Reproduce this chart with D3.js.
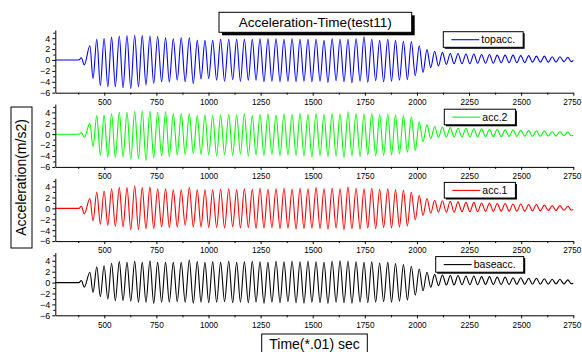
<!DOCTYPE html>
<html lang="en">
<head>
    <meta charset="UTF-8">
    <title>Acceleration-Time(test11)</title>
    <script src="https://d3js.org/d3.v7.min.js"></script>
    <style>
        body { margin: 0; background: #fff; }
        svg { font-family: "Liberation Sans", Arial, sans-serif; }
    </style>
</head>
<body>

<div id="chart"></div>

<script>
    // Series names (legend labels), top to bottom
    const categories = ["topacc.", "acc.2", "acc.1", "baseacc."];
    const lineColors = ["#0000ff", "#00ff00", "#ff0000", "#000000"];

    // Tick labels
    const xTicks = [500, 750, 1000, 1250, 1500, 1750, 2000, 2250, 2500, 2750];
    const yTicks = [-6, -4, -2, 0, 2, 4];

    // Signal is flat at 0 until the shaking starts
    const startTime = 265;
    const onsetTime = 378;
    const endTime = 2750;

    // Times (*.01 s) of each positive peak and each trough
    const peakTimes = [390, 431, 464, 499, 535, 572, 609, 646, 682, 719, 756, 794, 831, 869, 908, 946,
        983, 1020, 1058, 1097, 1135, 1172, 1210, 1247, 1285, 1324, 1362, 1401, 1439, 1477, 1516, 1554,
        1593, 1631, 1669, 1708, 1746, 1783, 1821, 1860, 1897, 1935, 1973, 2011, 2048, 2085, 2122, 2160,
        2197, 2235, 2273, 2310, 2348, 2385, 2423, 2461, 2498, 2536, 2573, 2611, 2649, 2686, 2724];
    const troughTimes = [404, 446, 481, 517, 553, 590, 627, 664, 700, 737, 775, 812, 850, 888, 927, 964,
        1001, 1039, 1077, 1116, 1153, 1191, 1228, 1266, 1304, 1343, 1381, 1420, 1458, 1496, 1535, 1573,
        1612, 1650, 1688, 1727, 1764, 1802, 1840, 1878, 1916, 1954, 1992, 2029, 2066, 2103, 2141, 2178,
        2216, 2254, 2291, 2329, 2366, 2404, 2442, 2479, 2517, 2554, 2592, 2630, 2667, 2705, 2740];

    // Peak / trough accelerations (m/s2) for each record
    const topMax = [0.4, 2.6, 3.8, 4.0, 4.2, 4.4, 4.5, 4.55, 4.55, 4.4, 4.3, 4.05, 3.9, 4.05, 4.05, 3.6,
        3.6, 3.6, 3.8, 3.8, 3.8, 3.8, 3.8, 3.9, 3.9, 3.9, 3.8, 3.9, 3.8, 3.8, 3.8, 3.6,
        3.9, 3.8, 3.8, 3.9, 4.25, 3.8, 3.6, 3.8, 3.6, 3.45, 3.4, 2.6, 1.9, 1.6, 1.4, 1.2,
        1.2, 1.1, 1.1, 1.0, 1.0, 0.9, 0.9, 0.9, 0.8, 0.8, 0.7, 0.7, 0.6, 0.6, 0.5];
    const topMin = [-0.9, -3.4, -4.7, -4.9, -4.9, -5.1, -5.2, -4.9, -4.6, -4.3, -4.0, -4.05, -3.7, -4.0, -4.3, -3.5,
        -3.4, -3.7, -3.9, -3.6, -3.9, -3.7, -3.7, -4.0, -3.9, -4.0, -3.9, -4.0, -3.9, -4.0, -3.9, -4.1,
        -3.8, -4.0, -4.2, -3.9, -4.1, -3.8, -4.0, -3.9, -3.7, -3.6, -2.9, -2.3, -1.4, -1.1, -0.8, -0.7,
        -0.7, -0.7, -0.6, -0.6, -0.6, -0.5, -0.5, -0.5, -0.5, -0.4, -0.4, -0.4, -0.4, -0.3, -0.3];

    const acc2Max = [0.3, 2.0, 3.4, 3.5, 3.8, 4.0, 4.0, 4.2, 4.3, 4.2, 4.0, 4.1, 3.8, 3.8, 3.8, 3.4,
        3.5, 3.4, 3.5, 3.6, 3.5, 3.7, 3.4, 3.6, 3.7, 3.5, 3.7, 3.6, 3.8, 3.6, 3.8, 3.6,
        3.8, 3.7, 4.1, 3.8, 3.7, 3.8, 3.6, 3.7, 3.5, 3.4, 3.2, 2.3, 1.7, 1.4, 1.3, 1.2,
        1.1, 1.1, 1.0, 1.0, 0.9, 0.9, 0.8, 0.8, 0.7, 0.7, 0.6, 0.6, 0.5, 0.5, 0.4];
    const acc2Min = [-0.6, -2.3, -3.85, -4.2, -4.3, -4.2, -4.6, -4.5, -4.8, -4.4, -4.0, -4.1, -3.8, -3.7, -3.55, -3.7,
        -3.8, -4.0, -3.8, -3.9, -3.6, -4.0, -3.8, -3.9, -3.7, -4.0, -3.8, -3.9, -4.0, -4.2, -3.9, -4.1,
        -4.0, -4.3, -3.9, -4.1, -3.8, -4.0, -3.9, -3.8, -3.6, -3.3, -3.0, -1.4, -0.8, -0.6, -0.5, -0.5,
        -0.5, -0.5, -0.5, -0.45, -0.45, -0.45, -0.4, -0.4, -0.4, -0.4, -0.4, -0.35, -0.35, -0.3, -0.3];

    const acc1Max = [0.4, 1.8, 3.0, 3.2, 3.6, 3.8, 3.8, 4.15, 3.8, 3.9, 3.6, 3.6, 3.4, 3.4, 3.8, 3.4,
        3.4, 3.4, 3.5, 3.6, 3.4, 3.6, 3.5, 3.7, 3.5, 3.6, 3.7, 3.5, 3.7, 3.6, 3.8, 3.6,
        3.7, 3.6, 3.9, 3.7, 3.6, 3.7, 3.5, 3.6, 3.4, 3.3, 3.0, 2.4, 1.8, 1.5, 1.4, 1.3,
        1.2, 1.1, 1.1, 1.0, 1.0, 0.9, 0.9, 0.8, 0.8, 0.7, 0.7, 0.6, 0.5, 0.5, 0.4];
    const acc1Min = [-1.0, -2.3, -2.9, -3.1, -3.3, -3.4, -3.9, -3.9, -3.7, -3.7, -3.4, -3.5, -3.4, -3.1, -3.4, -3.4,
        -3.5, -3.5, -3.6, -3.4, -3.6, -3.5, -3.7, -3.6, -3.5, -3.7, -3.6, -3.8, -3.7, -3.6, -3.7, -3.8,
        -3.6, -3.9, -3.7, -3.8, -3.6, -3.7, -3.5, -3.6, -3.4, -3.2, -2.1, -1.3, -0.9, -0.7, -0.7, -0.7,
        -0.6, -0.6, -0.6, -0.55, -0.55, -0.5, -0.5, -0.5, -0.5, -0.45, -0.45, -0.4, -0.4, -0.35, -0.3];

    const baseMax = [0.37, 1.9, 2.9, 3.1, 3.55, 3.85, 3.7, 3.9, 3.7, 4.0, 3.7, 3.7, 3.7, 3.7, 4.15, 3.85,
        3.7, 3.8, 3.7, 3.9, 3.7, 3.8, 3.9, 3.8, 3.7, 3.9, 3.8, 3.9, 3.8, 3.9, 3.8, 3.7,
        3.9, 4.0, 3.9, 3.8, 3.7, 3.8, 3.6, 3.7, 3.5, 3.3, 3.0, 2.5, 1.9, 1.5, 1.4, 1.3,
        1.3, 1.2, 1.2, 1.1, 1.1, 1.0, 1.0, 0.9, 0.9, 0.8, 0.8, 0.7, 0.6, 0.6, 0.5];
    const baseMin = [-0.85, -1.8, -2.6, -3.0, -3.3, -3.3, -3.4, -3.6, -3.6, -3.8, -3.6, -3.6, -3.5, -3.6, -3.8, -3.6,
        -3.7, -3.6, -3.5, -3.7, -3.6, -3.7, -3.6, -3.8, -3.6, -3.7, -3.5, -3.7, -3.8, -3.6, -3.7, -3.8,
        -3.6, -3.7, -3.8, -3.6, -3.7, -3.6, -3.5, -3.6, -3.4, -3.2, -2.3, -1.5, -0.85, -0.55, -0.45, -0.45,
        -0.4, -0.4, -0.4, -0.35, -0.35, -0.35, -0.35, -0.3, -0.3, -0.3, -0.3, -0.3, -0.25, -0.25, -0.2];

    const endValues = [-0.1, -0.2, -0.2, -0.15];

    const seriesMax = [topMax, acc2Max, acc1Max, baseMax];
    const seriesMin = [topMin, acc2Min, acc1Min, baseMin];

    // Layout
    const W = 582, H = 352;
    const plotLeft = 55.3, plotRight = 573.3;
    const panelBottoms = [92.7, 166.9, 241.1, 315.3];
    const panelHeight = 62.7;
    const legendX = [443.3, 444.3, 444.3, 435.7];
    const legendDy = [1.7, 5, 4, 4];

    const svg = d3.select("#chart")
        .append("svg")
        .attr("width", W)
        .attr("height", H);

    const x = d3.scaleLinear()
        .domain([startTime, endTime])
        .range([plotLeft, plotRight]);

    const xMinor = d3.range(375, 2750, 250);
    const yMinor = [-5, -3, -1, 1, 3, 5];

    categories.forEach(function(name, k) {
        const bottom = panelBottoms[k];
        const top = bottom - panelHeight;

        const y = d3.scaleLinear()
            .domain([-6, 5.5])
            .range([bottom, top]);

        // build the record: flat start, then alternating peaks and troughs
        const pts = [[startTime, 0], [onsetTime, 0]];
        peakTimes.forEach(function(t, i) {
            pts.push([t, seriesMax[k][i]]);
            pts.push([troughTimes[i], seriesMin[k][i]]);
        });
        pts.push([endTime, endValues[k]]);

        const line = d3.line()
            .x(d => x(d[0]))
            .y(d => y(d[1]))
            .curve(d3.curveMonotoneX);

        svg.append("path")
            .datum(pts)
            .attr("d", line)
            .attr("fill", "none")
            .attr("stroke", lineColors[k])
            .attr("stroke-width", 1.1);

        // X axis
        const gx = svg.append("g")
            .attr("transform", "translate(0," + bottom + ")")
            .call(d3.axisBottom(x).tickValues(xTicks).tickFormat(d3.format("d"))
                .tickSizeInner(3).tickSizeOuter(0).tickPadding(3.5));
        svg.append("g")
            .attr("transform", "translate(0," + bottom + ")")
            .call(d3.axisBottom(x).tickValues(xMinor).tickSize(2).tickFormat(""))
            .select(".domain").remove();

        // Y axis
        const gy = svg.append("g")
            .attr("transform", "translate(" + plotLeft + ",0)")
            .call(d3.axisLeft(y).tickValues(yTicks).tickSizeInner(3).tickSizeOuter(0).tickPadding(2));
        svg.append("g")
            .attr("transform", "translate(" + plotLeft + ",0)")
            .call(d3.axisLeft(y).tickValues(yMinor.filter(v => v < 5.5)).tickSize(2).tickFormat(""))
            .select(".domain").remove();

        [gx, gy].forEach(function(g) {
            g.selectAll("text")
                .attr("font-family", "Liberation Sans, Arial, sans-serif")
                .attr("fill", "#000");
        });
        gx.selectAll("text").attr("font-size", 8.2);
        gy.selectAll("text").attr("font-size", 9);
        // keep the last label inside the page
        gx.selectAll(".tick").filter(d => d === 2750).select("text").attr("dx", -1.5);

        // Legend
        const lg = svg.append("g")
            .attr("transform", "translate(" + legendX[k] + "," + (top + legendDy[k]) + ")");
        const lgShadow = lg.append("rect");
        const lgBox = lg.append("rect");
        lg.append("line")
            .attr("x1", 8).attr("x2", 36)
            .attr("y1", 8).attr("y2", 8)
            .attr("stroke", lineColors[k])
            .attr("stroke-width", 1.1);
        const lt = lg.append("text")
            .attr("x", 38).attr("y", 8)
            .attr("dy", "0.35em")
            .attr("font-size", 10.5)
            .text(name);
        const bw = 38 + lt.node().getComputedTextLength() + 8;
        lgShadow.attr("x", 1.5).attr("y", 1.5).attr("width", bw).attr("height", 15.6).attr("fill", "#000");
        lgBox.attr("x", 0).attr("y", 0).attr("width", bw).attr("height", 15.6)
            .attr("fill", "#fff").attr("stroke", "#000").attr("stroke-width", 1);
    });

    // Title box with shadow
    svg.append("rect")
        .attr("x", 222).attr("y", 15.3)
        .attr("width", 192.7).attr("height", 20)
        .attr("fill", "#000");
    svg.append("rect")
        .attr("x", 219).attr("y", 12.3)
        .attr("width", 192.7).attr("height", 20)
        .attr("fill", "#fff").attr("stroke", "#000").attr("stroke-width", 1);
    svg.append("text")
        .attr("x", 219 + 192.7 / 2).attr("y", 22.3)
        .attr("dy", "0.35em")
        .attr("text-anchor", "middle")
        .attr("font-size", 13.5)
        .text("Acceleration-Time(test11)");

    // Y axis label box
    svg.append("rect")
        .attr("x", 11).attr("y", 107)
        .attr("width", 21).attr("height", 141)
        .attr("fill", "#fff").attr("stroke", "#000").attr("stroke-width", 1);
    svg.append("text")
        .attr("text-anchor", "middle")
        .attr("transform", "translate(21.5,177.5) rotate(-90)")
        .attr("dy", "0.35em")
        .attr("font-size", 14)
        .text("Acceleration(m/s2)");

    // X axis label box
    svg.append("rect")
        .attr("x", 261.7).attr("y", 334)
        .attr("width", 105.6).attr("height", 22)
        .attr("fill", "#fff").attr("stroke", "#000").attr("stroke-width", 1);
    svg.append("text")
        .attr("x", 314.5).attr("y", 344)
        .attr("dy", "0.35em")
        .attr("text-anchor", "middle")
        .attr("font-size", 14)
        .text("Time(*.01) sec");
</script>

</body>
</html>
